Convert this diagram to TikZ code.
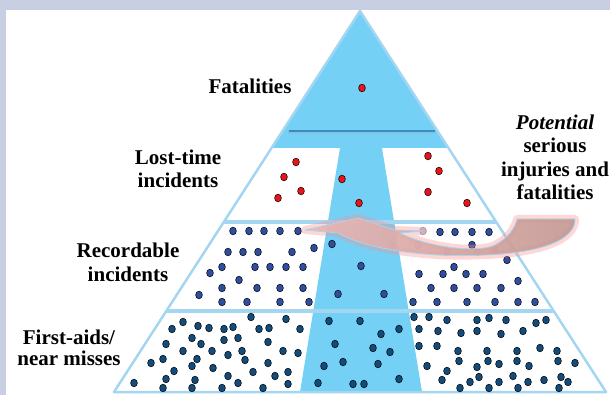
\documentclass[tikz,border=0pt]{standalone}
\usepackage{fontspec}
\setmainfont{Liberation Serif}

\definecolor{framegray}{HTML}{C8CFE3}
\definecolor{pyrcyan}{HTML}{74D0F4}
\definecolor{pyredge}{HTML}{A4D6F2}
\definecolor{tierline}{HTML}{3A8CC0}
\definecolor{dotred}{HTML}{E8141B}
\definecolor{dotblue}{HTML}{2F4E9E}
\definecolor{dotnavy}{HTML}{134C7A}
\definecolor{arrowpink}{HTML}{EDB6B3}
\definecolor{arrowrose}{HTML}{C49893}

\tikzset{
  tierlabel/.style={font=\bfseries\fontsize{21}{23.5}\selectfont, align=center, anchor=base, inner sep=0pt},
  reddot/.style={fill=dotred, draw=black, line width=0.5pt},
  bluedot/.style={fill=dotblue, draw=black, line width=0.5pt},
  navydot/.style={fill=dotnavy, draw=black, line width=0.5pt}
}

\begin{document}
\begin{tikzpicture}[x=1pt,y=-1pt]
\useasboundingbox (0,0) rectangle (610,395);
\fill[framegray] (0,0) rectangle (610,10);
\fill[framegray] (0,0) rectangle (6,395);

\coordinate (apex) at (360,11);
\coordinate (baseL) at (114,392);
\coordinate (baseR) at (606,392);

\fill[white] (apex) -- (baseR) -- (baseL) -- cycle;
\begin{scope}
\clip (apex) -- (baseR) -- (baseL) -- cycle;
\fill[pyrcyan] (100,0) rectangle (620,148);
\fill[pyrcyan] (340,148) -- (382,148) -- (422,392) -- (300,392) -- cycle;
\draw[pyredge, line width=3.5pt] (100,222) -- (620,222);
\draw[pyredge, line width=3.5pt] (100,311) -- (620,311);
\end{scope}
\draw[tierline!60, line width=3pt, opacity=0.5] (288,133) -- (436,133);
\draw[tierline, line width=1.5pt] (289,131) -- (435,131);
\draw[pyredge, line width=2.5pt, line join=round] (apex) -- (baseR) -- (baseL) -- cycle;

\foreach \x/\y in {362/88,296/162,284/177,301/191,278/198,342/179,359/203,428/156,439/171,428/192,467/203}
  \path[reddot] (\x,\y) ellipse (3.4 and 3.9);

\foreach \x/\y in {233/231,249/231,264/231,280/231,298/231,228/252,243/252,258/252,292/252,314/248,332/244,
  222/267,255/267,270/267,286/267,303/267,210/273,239/280,222/288,257/288,280/288,303/288,199/295,
  222/302,247/302,280/302,309/302,361/266,338/294,384/294,440/232,455/232,472/232,489/232,472/245,507/260,
  419/274,443/274,454/267,466/274,483/274,518/281,431/288,454/288,477/288,501/288,
  413/302,437/302,467/302,495/302,518/302,535/302}
  \path[bluedot] (\x,\y) ellipse (3.4 and 3.9);
\foreach \x/\y in {423/231,418/245,391/245,447/252,477/252,495/250}
  \path[bluedot, opacity=0.35] (\x,\y) ellipse (3.4 and 3.9);

\foreach \x/\y in {183/322,172/329,198/326,209/328,224/329,233/327,251/317,259/329,269/328,286/319,300/329,
  192/338,201/344,166/344,224/340,238/338,268/342,183/351,212/351,242/351,283/351,298/353,228/355,
  163/359,151/363,197/359,245/360,268/363,174/371,192/366,213/368,253/372,275/376,288/372,
  134/383,166/379,195/380,228/376,238/383,288/384,163/388,192/388,222/388,263/388,
  318/383,329/321,360/321,399/329,381/334,335/344,373/348,390/352,343/362,378/364,324/366,353/384,364/384,399/379,
  414/317,429/317,447/320,477/320,489/318,506/320,536/323,546/320,
  419/329,438/331,461/333,477/331,501/334,523/331,
  419/346,437/346,458/351,487/351,517/351,540/348,557/351,
  459/361,488/361,499/364,517/361,529/366,558/361,575/363,427/366,447/371,477/367,
  442/380,470/382,479/377,499/382,513/376,528/382,544/380,561/377,568/382,
  460/388,489/388,518/388,559/388}
  \path[navydot] (\x,\y) ellipse (3.4 and 3.9);

\draw[red!45, line width=8pt, opacity=0.35, line join=round]
  (305,230) -- (358,218) -- (395,230) -- (423,231) -- (400,233) .. controls (430,248) and (478,253) .. (495,245)
  .. controls (508,238) and (515,228) .. (517,219) -- (575,219) .. controls (576,240) and (540,253) .. (485,255)
  .. controls (430,258) and (368,250) .. (338,233) -- cycle;
\path[left color=arrowpink, right color=arrowrose, fill opacity=0.92, draw=pyredge, line width=0.8pt, line join=round]
  (305,230) -- (358,218) -- (395,230) -- (423,231) -- (400,233) .. controls (430,248) and (478,253) .. (495,245)
  .. controls (508,238) and (515,228) .. (517,219) -- (575,219) .. controls (576,240) and (540,253) .. (485,255)
  .. controls (430,258) and (368,250) .. (338,233) -- cycle;

\node[tierlabel] (fatal) at (250,94) {Fatalities};
\node[tierlabel] (losttime) at (178,188) {Lost-time\\incidents};
\node[tierlabel] (record) at (128,281) {Recordable\\incidents};
\node[tierlabel] (firstaid) at (69,365) {First-aids/\\[-2.5pt]near misses};
\node[tierlabel] (potential) at (555,200) {\textit{Potential}\\serious\\injuries and\\fatalities};
\end{tikzpicture}
\end{document}
